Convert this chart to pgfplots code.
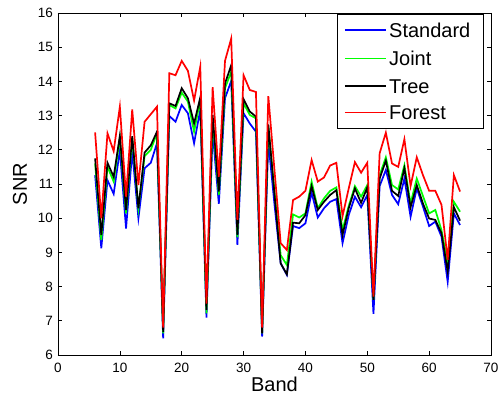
\documentclass[border=0pt]{standalone}
\usepackage{fontspec}
\setmainfont{Liberation Sans}
\usepackage{pgfplots}
\usepackage{pgfplotstable}
\pgfplotsset{compat=1.18}

\pgfplotstableread{
band std joint tree forest
6 11.26 11.60 11.75 12.51
7 9.12 9.36 9.51 10.00
8 11.11 11.50 11.62 12.48
9 10.71 11.07 11.21 11.96
10 11.99 12.34 12.41 13.26
11 9.70 10.14 10.24 10.63
12 11.95 12.34 12.40 13.18
13 10.00 10.29 10.29 10.97
14 11.46 11.82 11.92 12.82
15 11.62 12.00 12.13 13.04
16 12.19 12.48 12.53 13.26
17 6.49 6.63 6.68 6.80
18 12.99 13.31 13.36 14.24
19 12.82 13.21 13.28 14.18
20 13.31 13.67 13.80 14.60
21 13.07 13.41 13.51 14.31
22 12.19 12.53 12.77 13.44
23 13.17 13.46 13.53 14.43
24 7.09 7.22 7.32 7.50
25 12.53 12.92 13.02 13.83
26 10.42 10.68 10.78 11.21
27 13.51 13.80 13.94 14.60
28 14.01 14.28 14.47 15.25
29 9.22 9.44 9.51 9.95
30 13.07 13.36 13.48 14.18
31 12.77 13.02 13.12 13.75
32 12.53 12.92 12.97 13.69
33 6.54 6.63 6.63 6.80
34 12.24 12.68 12.74 13.57
35 10.40 10.80 10.70 11.40
36 8.68 8.92 8.68 9.27
37 8.34 8.63 8.36 9.07
38 9.77 10.11 9.87 10.53
39 9.71 10.02 9.85 10.63
40 9.85 10.14 10.09 10.80
41 10.75 11.07 10.94 11.70
42 10.02 10.29 10.24 11.07
43 10.29 10.58 10.48 11.19
44 10.48 10.80 10.68 11.54
45 10.56 10.90 10.82 11.62
46 9.27 9.65 9.51 10.06
47 10.09 10.36 10.29 10.87
48 10.63 10.94 10.87 11.64
49 10.32 10.63 10.45 11.33
50 10.68 10.97 10.90 11.62
51 7.20 7.61 7.61 7.71
52 10.94 11.26 11.16 11.90
53 11.41 11.78 11.68 12.50
54 10.68 10.97 10.80 11.60
55 10.41 10.84 10.65 11.50
56 11.16 11.55 11.46 12.31
57 10.04 10.43 10.32 10.94
58 10.87 11.16 10.97 11.78
59 10.34 10.65 10.43 11.26
60 9.77 10.14 9.99 10.80
61 9.90 10.24 9.95 10.80
62 9.46 9.65 9.56 10.39
63 8.14 8.68 8.44 8.78
64 10.14 10.48 10.32 11.26
65 9.80 10.19 9.93 10.78
}\snrdata

\begin{document}
\begin{tikzpicture}
\begin{axis}[
  at={(0,0)}, anchor=south west,
  scale only axis, width=433pt, height=342pt,
  xmin=0, xmax=70, ymin=6, ymax=16,
  xtick={0,10,...,70}, ytick={6,7,...,16},
  tick pos=both, tick align=inside,
  major tick length=4pt,
  axis line style={line width=0.8pt},
  major tick style={black, line width=0.7pt},
  /pgf/number format/assume math mode=true,
  tick label style={font=\fontsize{13.5}{16}\selectfont},
  xticklabel style={anchor=north, inner sep=0pt, yshift=-7.5pt},
  yticklabel style={anchor=east, inner sep=0pt, xshift=-5pt},
  xlabel={Band}, ylabel={SNR},
  label style={font=\fontsize{20}{24}\selectfont},
  xlabel style={at={([yshift=-37pt]axis description cs:0.5,0)}, anchor=base},
  ylabel style={at={([xshift=-31pt]axis description cs:0,0.5)}, anchor=base},
  clip=false,
]
\addplot[color=blue, line width=1.7pt] table[x=band, y=std] {\snrdata};
\addplot[color=green, line width=1.7pt] table[x=band, y=joint] {\snrdata};
\addplot[color=black, line width=1.7pt] table[x=band, y=tree] {\snrdata};
\addplot[color=red, line width=1.7pt] table[x=band, y=forest] {\snrdata};
% legend
\draw[black, line width=0.6pt, fill=white] (rel axis cs:0.6443,0.6637) rectangle (rel axis cs:0.9815,0.9971);
\draw[blue, line width=1.1pt] (rel axis cs:0.6628,0.9503) -- (rel axis cs:0.7575,0.9503);
\draw[green, line width=1.1pt] (rel axis cs:0.6628,0.8675) -- (rel axis cs:0.7575,0.8675);
\draw[black, line width=1.1pt] (rel axis cs:0.6628,0.7865) -- (rel axis cs:0.7575,0.7865);
\draw[red, line width=1.1pt] (rel axis cs:0.6628,0.7085) -- (rel axis cs:0.7575,0.7085);
\begin{scope}[every node/.style={anchor=west, inner sep=0pt, text height=14.3pt, text depth=0pt, font=\fontsize{20}{24}\selectfont}]
\node at (rel axis cs:0.7644,0.9503) {Standard};
\node at (rel axis cs:0.7644,0.8675) {Joint};
\node at (rel axis cs:0.7644,0.7865) {Tree};
\node at (rel axis cs:0.7644,0.7085) {Forest};
\end{scope}
\end{axis}
\pgfresetboundingbox
\useasboundingbox (-58pt,-43pt) rectangle (441pt,355pt);
\end{tikzpicture}
\end{document}
